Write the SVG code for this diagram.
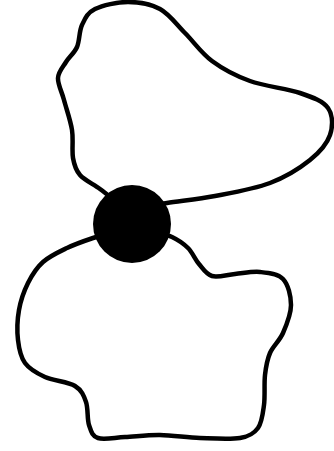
<svg xmlns="http://www.w3.org/2000/svg" width="334" height="451" viewBox="0 0 334 451">
<style>
.loop{fill:none;stroke:#000;stroke-width:4.5;stroke-linecap:round;stroke-linejoin:round}
.dot{fill:#000}
</style>
<rect width="334" height="451" fill="#fff"/>
<g id="upper-loop">
<path class="loop" d="M118,203 C115,200.7 106.3,193.7 100,189 C93.7,184.3 84.5,180.2 80,175 C75.5,169.8 74.3,165.5 73,158 C71.7,150.5 73.5,139.7 72,130 C70.5,120.3 66.3,108.7 64,100 C61.7,91.3 57.7,84.3 58,78 C58.3,71.7 62.8,67.2 66,62 C69.2,56.8 74.3,53.2 77,47 C79.7,40.8 79,31.3 82,25 C85,18.7 87.3,12.8 95,9 C102.7,5.2 117.2,2 128,2 C138.8,2 150.5,3.8 160,9 C169.5,14.2 176.3,24.3 185,33 C193.7,41.7 201.2,53 212,61 C222.8,69 235.3,75.7 250,81 C264.7,86.3 287,88.5 300,93 C313,97.5 323,101 328,108 C333,115 333,126.3 330,135 C327,143.7 320,152 310,160 C300,168 285.8,177 270,183 C254.2,189 232.2,192.7 215,196 C197.8,199.3 179.5,201 167,203 C154.5,205 144.5,207.2 140,208"/>
</g>
<g id="lower-loop">
<path class="loop" d="M115,232 C111.3,233 101,235.3 93,238 C85,240.7 75.3,244 67,248 C58.7,252 49.5,256.2 43,262 C36.5,267.8 32,275 28,283 C24,291 20.7,300.5 19,310 C17.3,319.5 17,331.2 18,340 C19,348.8 20.5,356.8 25,363 C29.5,369.2 36.7,373.2 45,377 C53.3,380.8 68.2,381.8 75,386 C81.8,390.2 83.7,395.5 86,402 C88.3,408.5 87,419 89,425 C91,431 92,436 98,438 C104,440 114.7,437.5 125,437 C135.3,436.5 147.5,434.8 160,435 C172.5,435.2 186.7,437.5 200,438 C213.3,438.5 230.3,439.7 240,438 C249.7,436.3 254,433.5 258,428 C262,422.5 262.8,413.8 264,405 C265.2,396.2 264,383.7 265,375 C266,366.3 267,360 270,353 C273,346 279.5,341 283,333 C286.5,325 291,314 291,305 C291,296 288.2,284.5 283,279 C277.8,273.5 268,272.8 260,272 C252,271.2 243,273.3 235,274 C227,274.7 218,277.7 212,276 C206,274.3 203,268.7 199,264 C195,259.3 192.5,252.5 188,248 C183.5,243.5 178.3,240 172,237 C165.7,234 153.7,231.2 150,230"/>
</g>
<g id="junction">
<circle class="dot" cx="132" cy="224" r="39"/>
</g>
</svg>
